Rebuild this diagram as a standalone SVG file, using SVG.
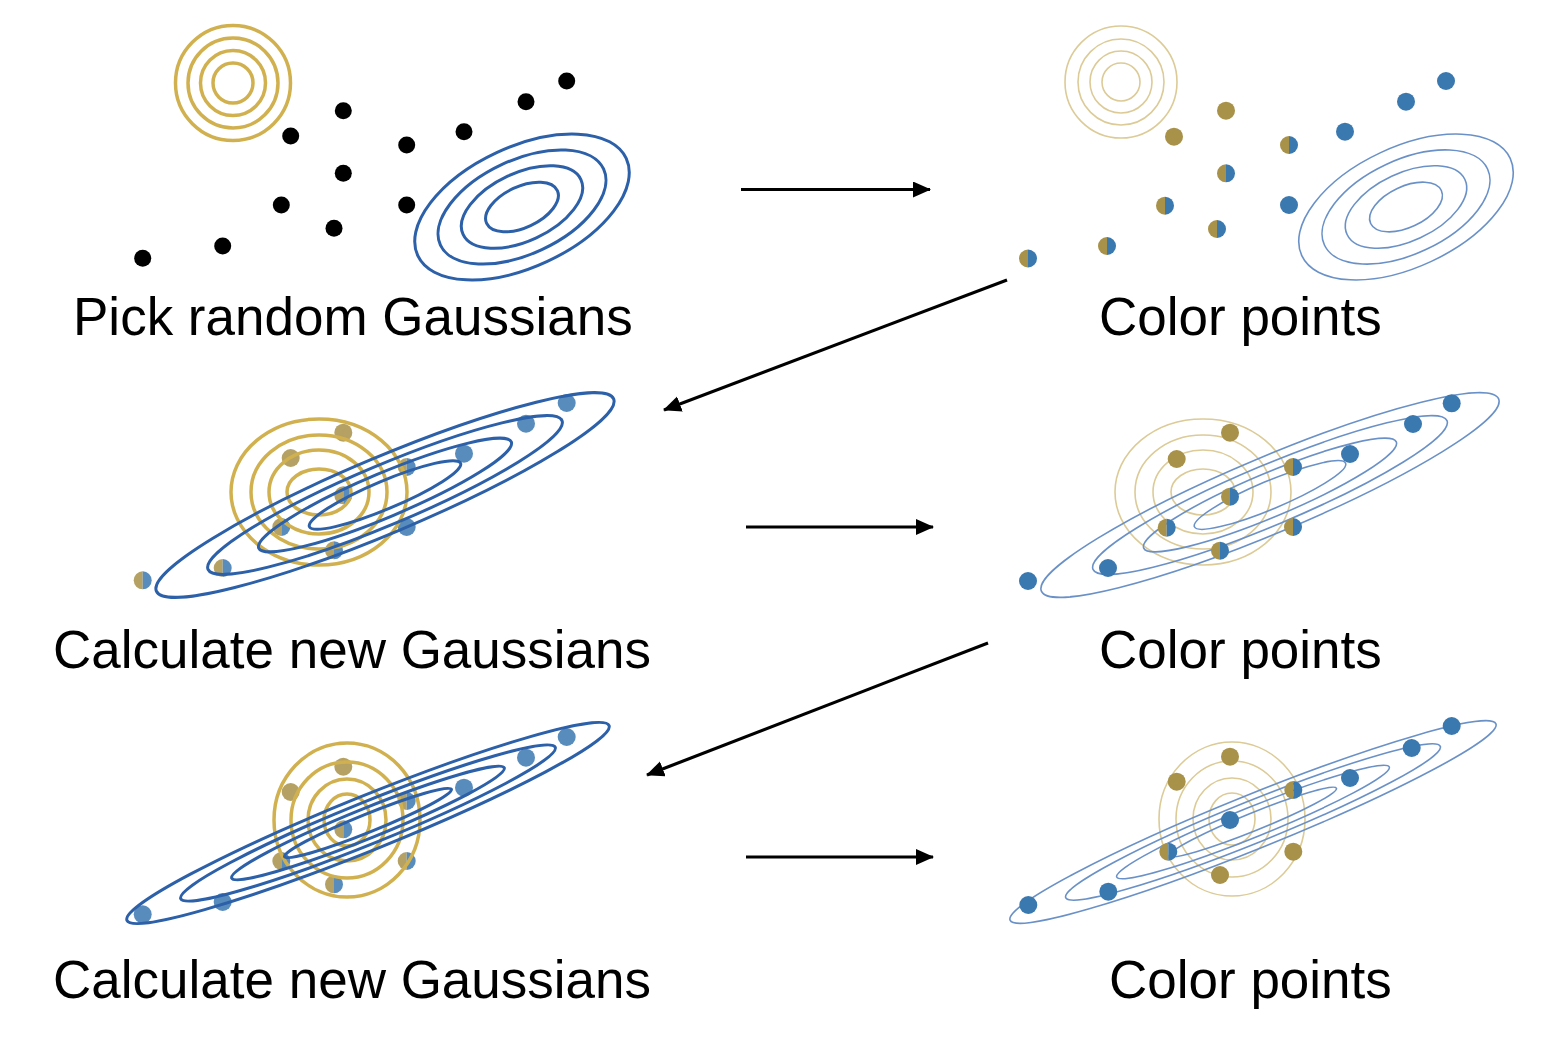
<svg xmlns="http://www.w3.org/2000/svg" width="1552" height="1041" viewBox="0 0 1552 1041">
<style>
.lbl{font-family:"Liberation Sans",Arial,Helvetica,sans-serif;font-size:53px;fill:#000}
.gk{fill:none;stroke:#d1b14f;stroke-width:3.5}
.bk{fill:none;stroke:#2c60a8;stroke-width:3}
.gl{fill:none;stroke:#dccb97;stroke-width:1.6}
.bl{fill:none;stroke:#6a91c7;stroke-width:1.6}
.dk{fill:#000}
.arr{stroke:#000;stroke-width:3;fill:none;marker-end:url(#ah)}
.faded{opacity:0.85}
</style>
<defs>
<marker id="ah" markerUnits="userSpaceOnUse" markerWidth="20" markerHeight="18" refX="17" refY="8" orient="auto">
<path d="M0,0 L18,8 L0,16 Z" fill="#000"/>
</marker>
<circle id="g" r="9" fill="#a89148"/>
<circle id="b" r="9" fill="#3a78b0"/>
<g id="h"><path d="M0,-9 A9,9 0 0 0 0,9 Z" fill="#a89148"/><path d="M0,-9 A9,9 0 0 1 0,9 Z" fill="#3a78b0"/></g>
</defs>
<rect width="1552" height="1041" fill="#fff"/>

<g id="panel-pick-random">
<g>
<circle class="gk" cx="233" cy="83" r="20"/>
<circle class="gk" cx="233" cy="83" r="32.5"/>
<circle class="gk" cx="233" cy="83" r="45"/>
<circle class="gk" cx="233" cy="83" r="57.5"/>
</g>
<g transform="rotate(-25 522 207)">
<ellipse class="bk" cx="522" cy="207" rx="39" ry="20.5"/>
<ellipse class="bk" cx="522" cy="207" rx="65" ry="34"/>
<ellipse class="bk" cx="522" cy="207" rx="90" ry="47"/>
<ellipse class="bk" cx="522" cy="207" rx="115" ry="60"/>
</g>
<g class="dk">
<circle cx="566.7" cy="81" r="8.5"/>
<circle cx="526" cy="101.7" r="8.5"/>
<circle cx="343.3" cy="110.7" r="8.5"/>
<circle cx="290.7" cy="136" r="8.5"/>
<circle cx="406.7" cy="145" r="8.5"/>
<circle cx="464" cy="131.7" r="8.5"/>
<circle cx="343.3" cy="173.3" r="8.5"/>
<circle cx="281.3" cy="205" r="8.5"/>
<circle cx="406.7" cy="205" r="8.5"/>
<circle cx="334" cy="228.3" r="8.5"/>
<circle cx="222.7" cy="246" r="8.5"/>
<circle cx="142.7" cy="258.3" r="8.5"/>
</g>
<text class="lbl" x="73" y="335">Pick random Gaussians</text>
</g>

<g id="panel-color-1">
<g>
<circle class="gl" cx="1121" cy="82" r="19"/>
<circle class="gl" cx="1121" cy="82" r="31"/>
<circle class="gl" cx="1121" cy="82" r="43"/>
<circle class="gl" cx="1121" cy="82" r="56"/>
</g>
<g transform="rotate(-25 1406 207)">
<ellipse class="bl" cx="1406" cy="207" rx="39" ry="20.5"/>
<ellipse class="bl" cx="1406" cy="207" rx="65" ry="34"/>
<ellipse class="bl" cx="1406" cy="207" rx="90" ry="47"/>
<ellipse class="bl" cx="1406" cy="207" rx="115" ry="60"/>
</g>
<use href="#b" x="1446" y="81"/>
<use href="#b" x="1406" y="101.7"/>
<use href="#g" x="1226" y="110.7"/>
<use href="#g" x="1174" y="136.7"/>
<use href="#h" x="1289" y="145"/>
<use href="#b" x="1345" y="131.7"/>
<use href="#h" x="1226" y="173.3"/>
<use href="#h" x="1165" y="205.7"/>
<use href="#b" x="1289" y="205"/>
<use href="#h" x="1217" y="229"/>
<use href="#h" x="1107" y="246"/>
<use href="#h" x="1028" y="258.5"/>
<text class="lbl" x="1099" y="335">Color points</text>
</g>

<g id="panel-calc-1">
<g class="faded">
<use href="#b" x="566.7" y="403"/>
<use href="#b" x="526" y="423.7"/>
<use href="#g" x="343.3" y="432.7"/>
<use href="#g" x="290.7" y="458"/>
<use href="#h" x="406.7" y="467"/>
<use href="#b" x="464" y="453.7"/>
<use href="#h" x="343.3" y="495.3"/>
<use href="#h" x="281.3" y="527"/>
<use href="#b" x="406.7" y="527"/>
<use href="#h" x="334" y="550.3"/>
<use href="#h" x="222.7" y="568"/>
<use href="#h" x="142.7" y="580.3"/>
</g>
<g>
<ellipse class="gk" cx="319" cy="492" rx="32" ry="23"/>
<ellipse class="gk" cx="319" cy="492" rx="50" ry="42"/>
<ellipse class="gk" cx="319" cy="492" rx="68" ry="57"/>
<ellipse class="gk" cx="319" cy="492" rx="88" ry="73"/>
</g>
<g transform="rotate(-22.8 385 495)">
<ellipse class="bk" cx="385" cy="495" rx="82" ry="14"/>
<ellipse class="bk" cx="385" cy="495" rx="137" ry="22"/>
<ellipse class="bk" cx="385" cy="495" rx="192" ry="30"/>
<ellipse class="bk" cx="385" cy="495" rx="248" ry="38"/>
</g>
<text class="lbl" x="53" y="668">Calculate new Gaussians</text>
</g>

<g id="panel-color-2">
<g>
<ellipse class="gl" cx="1203" cy="492" rx="32" ry="23"/>
<ellipse class="gl" cx="1203" cy="492" rx="50" ry="42"/>
<ellipse class="gl" cx="1203" cy="492" rx="68" ry="57"/>
<ellipse class="gl" cx="1203" cy="492" rx="88" ry="73"/>
</g>
<g transform="rotate(-22.8 1270 495)">
<ellipse class="bl" cx="1270" cy="495" rx="82" ry="14"/>
<ellipse class="bl" cx="1270" cy="495" rx="137" ry="22"/>
<ellipse class="bl" cx="1270" cy="495" rx="192" ry="30"/>
<ellipse class="bl" cx="1270" cy="495" rx="248" ry="38"/>
</g>
<use href="#b" x="1451.7" y="403.3"/>
<use href="#b" x="1413" y="424"/>
<use href="#b" x="1350" y="454"/>
<use href="#g" x="1230" y="432.7"/>
<use href="#g" x="1176.7" y="459"/>
<use href="#h" x="1293" y="467"/>
<use href="#h" x="1230" y="496.7"/>
<use href="#h" x="1166.7" y="527.7"/>
<use href="#h" x="1293" y="527"/>
<use href="#h" x="1220" y="550.7"/>
<use href="#b" x="1108" y="568"/>
<use href="#b" x="1028" y="581"/>
<text class="lbl" x="1099" y="668">Color points</text>
</g>

<g id="panel-calc-2">
<g class="faded">
<use href="#b" x="566.7" y="737"/>
<use href="#b" x="526" y="757.7"/>
<use href="#g" x="343.3" y="766.7"/>
<use href="#g" x="290.7" y="792"/>
<use href="#h" x="406.7" y="801"/>
<use href="#b" x="464" y="787.7"/>
<use href="#h" x="343.3" y="829.3"/>
<use href="#h" x="281.3" y="861"/>
<use href="#h" x="406.7" y="861"/>
<use href="#h" x="334" y="884.3"/>
<use href="#b" x="222.7" y="902"/>
<use href="#b" x="142.7" y="914.3"/>
</g>
<g>
<ellipse class="gk" cx="347" cy="820" rx="23" ry="26"/>
<ellipse class="gk" cx="347" cy="820" rx="39" ry="41"/>
<ellipse class="gk" cx="347" cy="820" rx="56" ry="58"/>
<ellipse class="gk" cx="347" cy="820" rx="73" ry="77"/>
</g>
<g transform="rotate(-22 368 823)">
<ellipse class="bk" cx="368" cy="823" rx="90" ry="9"/>
<ellipse class="bk" cx="368" cy="823" rx="147" ry="15"/>
<ellipse class="bk" cx="368" cy="823" rx="202" ry="21"/>
<ellipse class="bk" cx="368" cy="823" rx="260" ry="27"/>
</g>
<text class="lbl" x="53" y="998">Calculate new Gaussians</text>
</g>

<g id="panel-color-3">
<g>
<ellipse class="gl" cx="1232" cy="819" rx="23" ry="26"/>
<ellipse class="gl" cx="1232" cy="819" rx="39" ry="41"/>
<ellipse class="gl" cx="1232" cy="819" rx="56" ry="58"/>
<ellipse class="gl" cx="1232" cy="819" rx="73" ry="77"/>
</g>
<g transform="rotate(-22 1253 822)">
<ellipse class="bl" cx="1253" cy="822" rx="90" ry="9"/>
<ellipse class="bl" cx="1253" cy="822" rx="147" ry="15"/>
<ellipse class="bl" cx="1253" cy="822" rx="202" ry="21"/>
<ellipse class="bl" cx="1253" cy="822" rx="262" ry="27"/>
</g>
<use href="#b" x="1451.7" y="726"/>
<use href="#b" x="1411.7" y="748"/>
<use href="#b" x="1350" y="778"/>
<use href="#b" x="1230" y="820"/>
<use href="#b" x="1108.3" y="891.7"/>
<use href="#b" x="1028.3" y="905"/>
<use href="#g" x="1230" y="756.7"/>
<use href="#g" x="1176.7" y="781.7"/>
<use href="#g" x="1293.3" y="851.7"/>
<use href="#g" x="1220" y="875"/>
<use href="#h" x="1293.3" y="790"/>
<use href="#h" x="1168.3" y="851.7"/>
<text class="lbl" x="1109" y="998">Color points</text>
</g>

<g id="connectors">
<line class="arr" x1="741" y1="189.5" x2="930" y2="189.5"/>
<line class="arr" x1="1007" y1="280" x2="664" y2="410"/>
<line class="arr" x1="746" y1="527" x2="933" y2="527"/>
<line class="arr" x1="988" y1="643" x2="647" y2="775"/>
<line class="arr" x1="746" y1="857" x2="933" y2="857"/>
</g>
</svg>
